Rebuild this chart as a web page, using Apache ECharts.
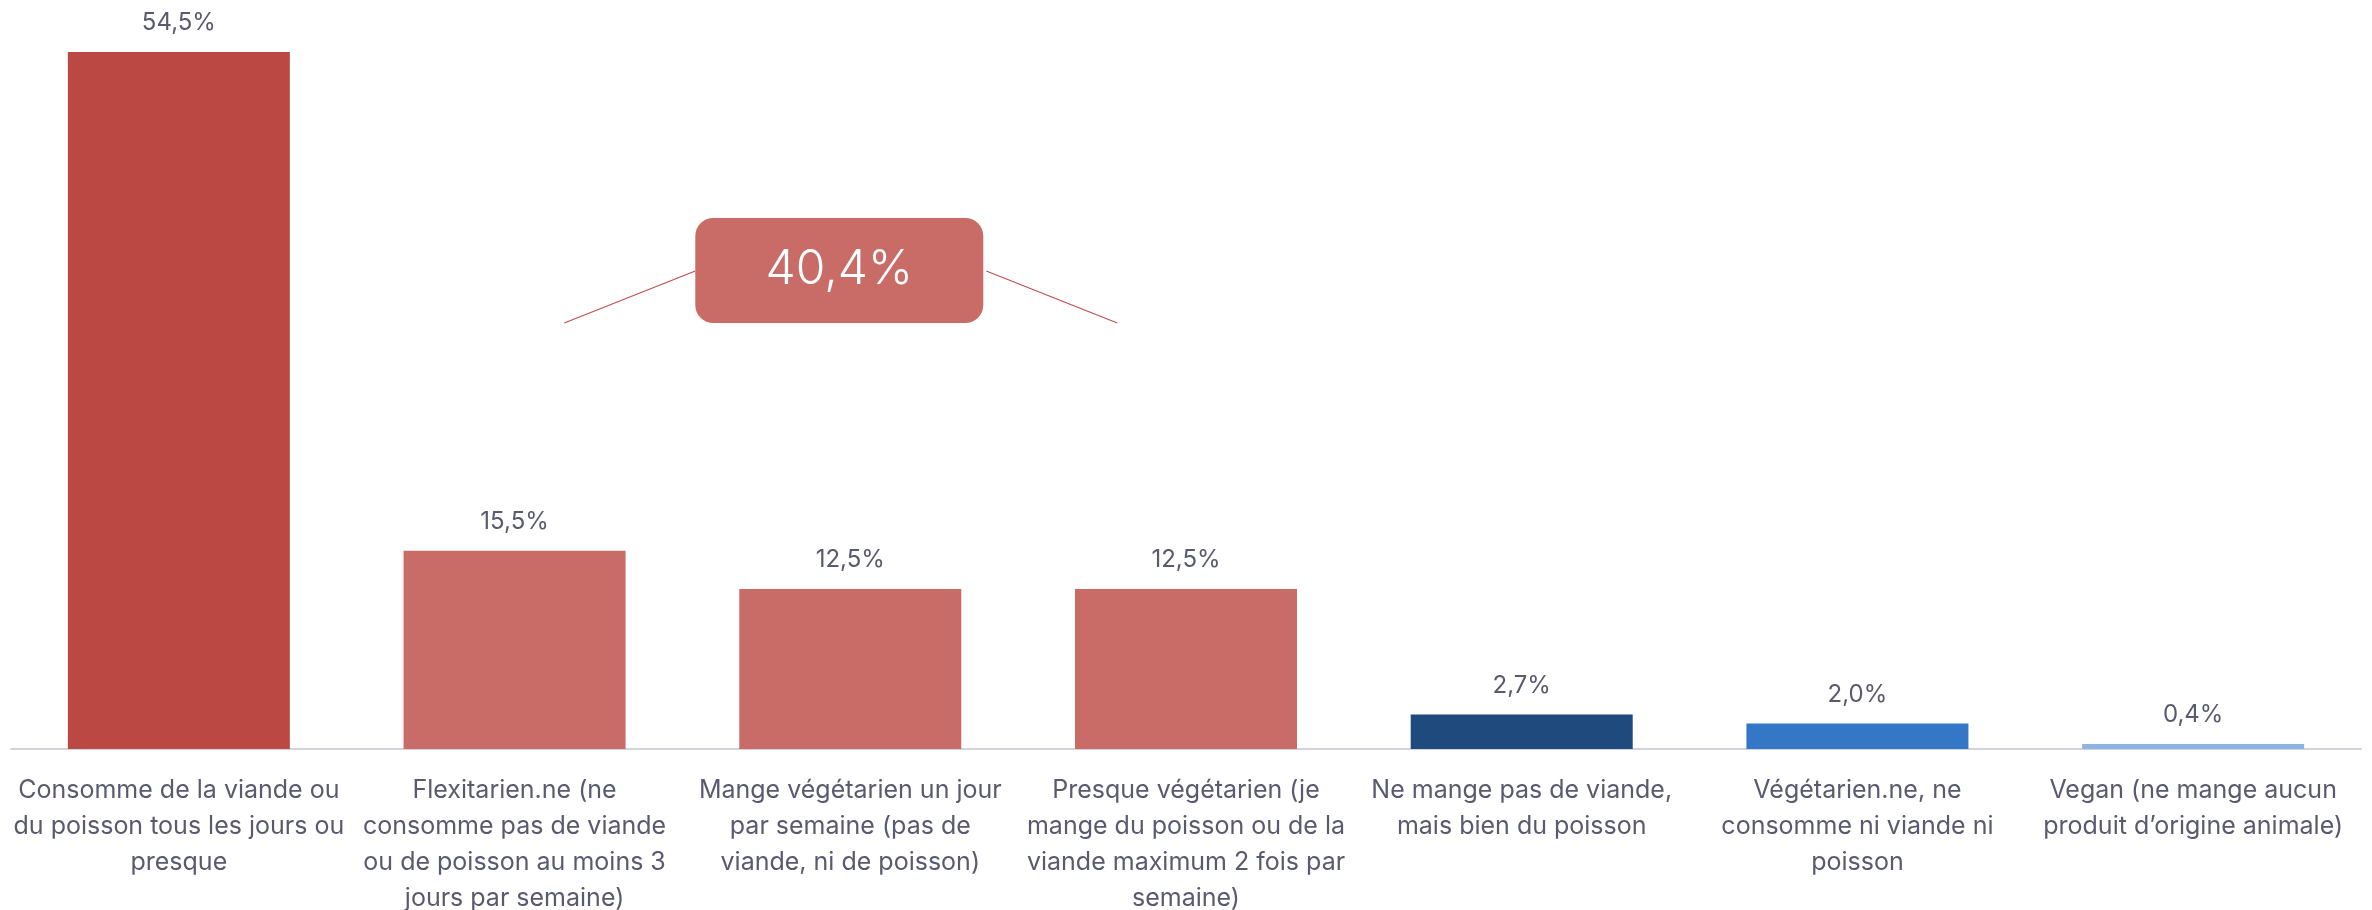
<!DOCTYPE html>
<html>
<head>
<meta charset="utf-8">
<style>
html,body{margin:0;padding:0;background:#fff;}
#chart{width:2372px;height:910px;}
</style>
<script src="https://cdn.jsdelivr.net/npm/echarts@6/dist/echarts.min.js"></script>
</head>
<body>
<div id="chart"></div>
<script>
const categories = [
  "Consomme de la viande ou\ndu poisson tous les jours ou\npresque",
  "Flexitarien.ne (ne\nconsomme pas de viande\nou de poisson au moins 3\njours par semaine)",
  "Mange végétarien un jour\npar semaine (pas de\nviande, ni de poisson)",
  "Presque végétarien (je\nmange du poisson ou de la\nviande maximum 2 fois par\nsemaine)",
  "Ne mange pas de viande,\nmais bien du poisson",
  "Végétarien.ne, ne\nconsomme ni viande ni\npoisson",
  "Vegan (ne mange aucun\nproduit d’origine animale)"
];
const values = [54.5, 15.5, 12.5, 12.5, 2.7, 2.0, 0.4];
const barColors = ["#BB4842", "#C96C67", "#C96C67", "#C96C67", "#1F4A7D", "#3477C6", "#8DB4E2"];
const calloutText = "40,4%";

const FONT = "Inter, 'Noto Sans', sans-serif";
const chart = echarts.init(document.getElementById('chart'));
chart.setOption({
  animation: false,
  backgroundColor: '#ffffff',
  grid: {left: 11, right: 11, top: 0, bottom: 161, containLabel: false, outerBoundsMode: 'none'},
  xAxis: {
    type: 'category',
    data: categories,
    axisLine: {lineStyle: {color: '#D3D3DB', width: 2}},
    axisTick: {show: false},
    axisLabel: {
      interval: 0,
      margin: 23,
      fontFamily: FONT,
      fontSize: 25,
      lineHeight: 36,
      color: '#595A70',
      align: 'center'
    }
  },
  yAxis: {
    type: 'value',
    min: 0,
    max: 58.56,
    show: false,
    splitLine: {show: false}
  },
  series: [{
    type: 'bar',
    barWidth: 222,
    data: values.map((v, i) => ({value: v, itemStyle: {color: barColors[i]}})),
    label: {
      show: true,
      position: 'top',
      distance: 17,
      fontFamily: FONT,
      fontSize: 24,
      color: '#595A70',
      formatter: p => p.value.toFixed(1).replace('.', ',') + '%'
    }
  }]
});

// Callout annotation centred around the three middle red bars
const cx = chart.convertToPixel({xAxisIndex: 0}, categories[2]);
const lineColor = '#C0504D';
chart.setOption({
  graphic: [
    {type: 'line', shape: {x1: cx - 286, y1: 323, x2: cx - 155, y2: 271}, style: {stroke: lineColor, lineWidth: 1.2}},
    {type: 'line', shape: {x1: cx + 136, y1: 271, x2: cx + 267, y2: 323}, style: {stroke: lineColor, lineWidth: 1.2}},
    {type: 'rect', shape: {x: cx - 155, y: 218, width: 288, height: 105, r: 18}, style: {fill: '#C96C67'}},
    {type: 'text', x: cx - 11, y: 270, style: {text: calloutText, fill: '#ffffff', font: '300 48px ' + FONT, textAlign: 'center', textVerticalAlign: 'middle'}}
  ]
});
</script>
</body>
</html>
